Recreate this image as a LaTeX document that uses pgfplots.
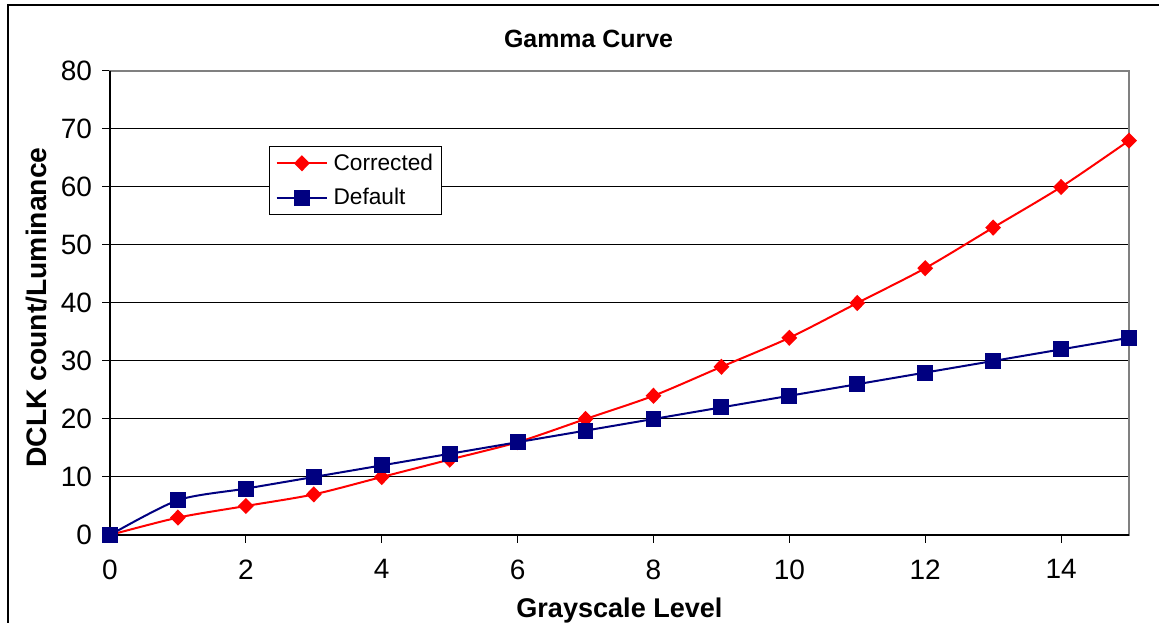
\documentclass[border=0pt]{standalone}
\usepackage{fontspec}
\setmainfont{Liberation Sans}
\usepackage{pgfplots}
\pgfplotsset{compat=1.18}
\definecolor{navyc}{HTML}{000080}
\definecolor{redc}{HTML}{FF0000}
\definecolor{bordergray}{HTML}{808080}
\begin{document}
\begin{tikzpicture}
\useasboundingbox (0,0) rectangle (869.25pt,467.25pt);
\draw[line width=1.1pt] (6pt,-5pt) -- (6pt,463.5pt) -- (880pt,463.5pt);
\begin{axis}[
  at={(82.5pt,66pt)}, anchor=south west,
  width=764.25pt, height=348pt, scale only axis,
  xmin=0, xmax=15, ymin=0, ymax=80,
  xtick={0,2,...,14}, ytick={0,10,...,80},
  xtick pos=left, ytick pos=left,
  tick align=outside, major tick length=6pt,
  tick style={black, line width=0.75pt},
  ymajorgrids, grid style={black, line width=0.75pt},
  axis line style={draw=bordergray, line width=1.6pt},
  clip=false,
  xticklabel style={font=\fontsize{21}{25}\selectfont, yshift=-9pt},
  yticklabel style={font=\fontsize{21}{25}\selectfont, xshift=-4pt},
  /pgf/number format/assume math mode=true,
  legend style={at={(0.156,0.838)}, anchor=north west, draw=black, line width=0.9pt,
    font=\fontsize{17}{20}\selectfont, inner xsep=4.5pt, inner ysep=3.5pt,
    nodes={inner sep=2pt}, row sep=8pt,
    /tikz/every odd column/.append style={column sep=2pt}},
  legend cell align=left,
  legend image code/.code={\draw[mark repeat=2,mark phase=2] plot coordinates {(0pt,0pt) (19pt,0pt) (38pt,0pt)};},
]
\draw[black, line width=1pt] (rel axis cs:0,1) -- (rel axis cs:0,0) -- (rel axis cs:1,0);
\addplot[color=redc, line width=1.5pt, smooth, tension=0.45, mark=diamond*, mark size=5pt, mark options={xscale=1.3, solid, fill=redc}]
  coordinates {(0,0) (1,3) (2,5) (3,7) (4,10) (5,13) (6,16) (7,20) (8,24) (9,29) (10,34) (11,40) (12,46) (13,53) (14,60) (15,68)};
\addlegendentry{Corrected}
\addplot[color=navyc, line width=1.5pt, smooth, tension=0.45, mark=square*, mark size=5.2pt, mark options={solid, fill=navyc}]
  coordinates {(0,0) (1,6) (2,8) (3,10) (4,12) (5,14) (6,16) (7,18) (8,20) (9,22) (10,24) (11,26) (12,28) (13,30) (14,32) (15,34)};
\addlegendentry{Default}
\end{axis}
\node[anchor=base, font=\bfseries\fontsize{18.7}{22}\selectfont] at (441.4pt,431.25pt) {Gamma Curve};
\node[anchor=base, font=\bfseries\fontsize{20.3}{24}\selectfont] at (464.6pt,3.75pt) {Grayscale Level};
\node[anchor=base, rotate=90, font=\bfseries\fontsize{21.2}{25}\selectfont] at (35pt,236.6pt) {DCLK count/Luminance};
\end{tikzpicture}
\end{document}
